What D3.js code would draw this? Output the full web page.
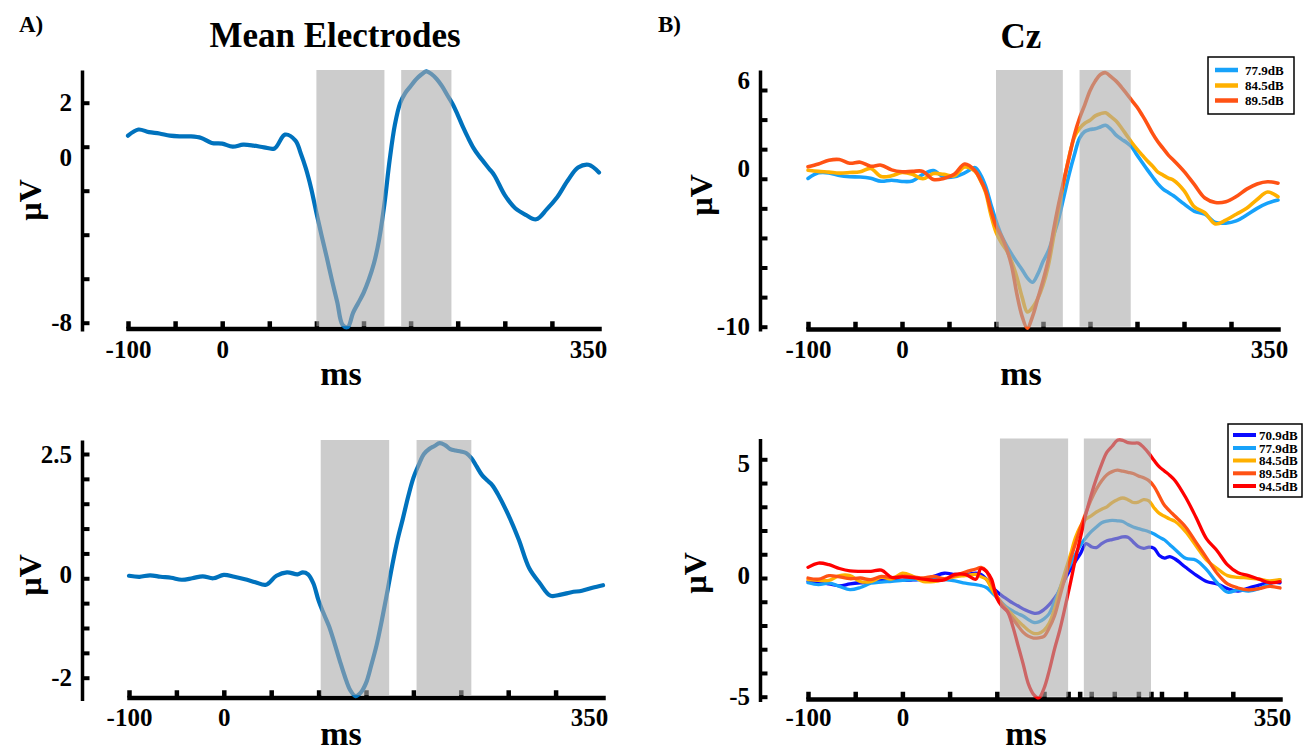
<!DOCTYPE html>
<html>
<head>
<meta charset="utf-8">
<script src="https://cdn.jsdelivr.net/npm/d3@7"></script>
<style>
  body { margin: 0; background: #fff; }
  svg { display: block; }
  text { font-family: "Liberation Serif", "Times New Roman", serif; font-weight: bold; fill: #000; }
</style>
</head>
<body>
<svg id="fig" width="1304" height="751"></svg>
<script>
// Sample times (ms) shared by every waveform
const tMs = [-100,-90,-80,-70,-60,-50,-40,-30,-20,-10,0,10,20,30,40,50,60,
  65,70,75,80,85,90,95,100,105,110,115,120,125,130,135,140,145,150,155,160,165,170,175,180,185,190,195,200,205,210,215,220,225,230,235,240,245,250,
  260,270,280,290,300,310,320,330,340,350];

// Mean over electrodes (µV), upper and lower experiment
const meanTop = [0.50,0.78,0.66,0.60,0.50,0.47,0.47,0.40,0.17,0.14,0.00,0.09,0.05,-0.03,-0.08,0.55,0.28,
  -0.30,-1.00,-1.90,-3.00,-4.05,-5.05,-6.10,-7.08,-8.10,-8.20,-7.55,-7.10,-6.65,-6.05,-5.30,-4.20,-2.60,-0.60,1.00,1.98,2.45,2.75,3.05,3.27,3.42,3.30,3.07,2.75,2.35,1.95,1.45,0.90,0.40,-0.05,-0.40,-0.70,-1.00,-1.30,
  -2.20,-2.80,-3.10,-3.30,-2.85,-2.30,-1.55,-0.95,-0.82,-1.17];
const meanBottom = [0.05,0.03,0.06,0.03,0.01,-0.03,0.00,0.04,0.00,0.07,0.03,-0.02,-0.08,-0.13,0.05,0.12,0.08,
  0.12,0.08,-0.10,-0.45,-0.72,-0.97,-1.30,-1.65,-1.98,-2.25,-2.37,-2.30,-2.11,-1.75,-1.35,-0.85,-0.30,0.27,0.78,1.20,1.64,2.02,2.28,2.50,2.60,2.66,2.72,2.68,2.60,2.57,2.55,2.52,2.42,2.25,2.08,1.97,1.87,1.70,
  1.28,0.78,0.20,-0.10,-0.35,-0.33,-0.28,-0.25,-0.19,-0.14];

// Cz waveforms, upper experiment
const czTop779 = [0.02,0.40,0.40,0.22,0.14,0.12,0.03,-0.17,-0.10,-0.18,-0.15,0.30,0.55,0.12,0.13,0.40,0.75,
  0.30,-0.50,-1.70,-2.85,-3.80,-4.50,-5.10,-5.65,-6.15,-6.70,-7.00,-6.45,-5.60,-4.90,-3.85,-2.70,-1.20,0.30,1.60,2.75,3.20,3.33,3.38,3.50,3.62,3.35,2.95,2.68,2.45,2.15,1.60,1.10,0.60,0.12,-0.35,-0.70,-0.93,-1.15,
  -1.70,-2.20,-2.40,-2.95,-3.00,-2.85,-2.45,-2.00,-1.65,-1.44];
const czTop845 = [0.58,0.50,0.45,0.38,0.42,0.48,0.70,0.15,0.20,0.42,0.30,0.00,0.35,0.30,0.20,0.80,0.50,
  -0.10,-0.90,-2.40,-3.60,-4.30,-4.83,-5.60,-6.65,-8.00,-9.00,-8.70,-8.10,-7.20,-5.90,-4.00,-2.00,-0.20,1.50,2.80,3.40,3.75,3.95,4.25,4.40,4.46,4.20,3.90,3.45,2.95,2.45,2.00,1.60,1.20,0.85,0.45,0.25,0.05,-0.10,
  -0.80,-1.90,-2.30,-3.05,-2.80,-2.40,-2.00,-1.40,-0.90,-1.22];
const czTop895 = [0.81,1.00,1.25,1.30,1.05,1.12,0.85,0.92,0.60,0.47,0.50,0.50,-0.05,0.02,0.30,1.00,0.55,
  -0.05,-0.80,-2.10,-3.20,-3.85,-4.70,-5.90,-7.80,-9.30,-10.10,-9.30,-8.10,-6.90,-5.50,-3.50,-1.70,-0.10,1.45,2.95,4.10,5.00,5.95,6.60,7.05,7.17,6.90,6.60,6.20,5.75,5.30,4.85,4.30,3.70,3.05,2.50,2.05,1.60,1.25,
  0.50,-0.40,-1.30,-1.60,-1.55,-1.20,-0.70,-0.35,-0.20,-0.30];

// Cz waveforms, lower experiment
const czBot709 = [-0.14,-0.18,-0.25,-0.33,-0.25,-0.20,-0.17,-0.08,-0.09,-0.10,-0.08,-0.05,0.07,0.20,0.15,0.14,0.20,
  0.15,-0.05,-0.35,-0.57,-0.75,-0.90,-1.05,-1.17,-1.30,-1.40,-1.48,-1.47,-1.33,-1.12,-0.85,-0.52,-0.05,0.35,0.70,1.05,1.45,1.32,1.28,1.45,1.57,1.62,1.67,1.73,1.72,1.52,1.32,1.25,1.30,1.25,0.95,0.84,0.90,0.80,
  0.45,0.12,-0.15,-0.25,-0.45,-0.55,-0.42,-0.30,-0.18,-0.20];
const czBot779 = [-0.20,-0.28,-0.22,-0.35,-0.49,-0.40,-0.22,-0.17,-0.14,-0.10,-0.07,-0.07,-0.07,-0.07,-0.12,-0.22,-0.28,
  -0.32,-0.40,-0.60,-0.82,-1.05,-1.25,-1.38,-1.50,-1.60,-1.75,-1.87,-1.85,-1.72,-1.50,-1.00,-0.45,0.10,0.55,1.00,1.40,1.70,1.95,2.15,2.33,2.40,2.43,2.41,2.38,2.25,2.15,2.08,2.02,1.95,1.85,1.72,1.60,1.40,1.20,
  0.83,0.75,0.35,-0.20,-0.60,-0.50,-0.55,-0.45,-0.25,-0.07];
const czBot845 = [-0.07,-0.10,-0.10,0.10,0.10,-0.15,-0.15,0.03,-0.04,0.20,0.07,-0.15,-0.15,-0.05,0.05,0.10,0.15,
  0.05,-0.05,-0.45,-0.80,-1.10,-1.33,-1.55,-1.80,-2.00,-2.20,-2.33,-2.33,-2.20,-1.90,-1.30,-0.50,0.25,0.95,1.70,2.20,2.48,2.62,2.78,2.90,3.00,3.18,3.30,3.37,3.30,3.18,3.20,3.30,3.25,2.95,2.72,2.60,2.48,2.38,
  1.95,1.35,0.75,0.40,0.10,0.03,0.00,-0.05,-0.12,-0.07];
const czBot895 = [0.00,-0.05,0.10,0.05,-0.03,0.00,-0.07,0.07,0.02,0.08,0.05,0.00,0.07,-0.03,0.10,0.25,0.38,
  0.45,0.30,-0.20,-0.75,-1.10,-1.40,-1.70,-2.00,-2.28,-2.45,-2.53,-2.52,-2.46,-2.10,-1.60,-0.80,0.00,0.75,1.45,2.15,2.75,3.30,3.75,4.10,4.35,4.48,4.54,4.50,4.45,4.40,4.30,4.22,4.10,3.85,3.45,3.05,2.82,2.60,
  2.15,1.50,0.85,0.20,-0.25,-0.42,-0.50,-0.45,-0.35,-0.42];
const czBot945 = [0.45,0.63,0.56,0.40,0.30,0.28,0.28,0.33,0.02,0.05,0.02,-0.05,-0.10,-0.08,0.15,0.15,-0.05,
  0.40,0.28,-0.05,-0.85,-1.20,-1.40,-2.00,-2.80,-3.60,-4.45,-4.90,-5.05,-4.65,-3.90,-3.00,-2.20,-1.25,-0.25,0.80,1.75,2.70,3.50,4.20,4.80,5.30,5.55,5.80,5.80,5.70,5.68,5.68,5.50,5.25,4.95,4.68,4.50,4.32,4.10,
  3.40,2.55,1.65,1.15,0.55,0.22,0.10,-0.05,-0.20,-0.15];

// Analysis windows (ms) shaded in each panel
const windowsMeanTop = [[80, 145], [161, 209]];
const windowsMeanBottom = [[82, 147], [173, 225]];
const windowsCzTop = [[80, 144], [160, 209]];
const windowsCzBottom = [[83, 148], [163, 227]];

// Legend entries
const levelsTop = ["77.9dB", "84.5dB", "89.5dB"];
const levelsBottom = ["70.9dB", "77.9dB", "84.5dB", "89.5dB", "94.5dB"];

// Time-axis ticks and their labels
const xTicks = d3.range(-100, 351, 45);
const xTickText = ["-100", "", "0", "", "", "", "", "", "", "", "350"];
const xExtraTicksCzBottom = [148, 159, 192, 227, 237];

// Voltage-axis ticks and labels
const yTicksMeanTop = [2, 0, -2, -4, -6, -8];
const yTextMeanTop = { "2": "2", "0": "0", "-8": "-8" };
const yTicksMeanBottom = [2.5, 2, 1.5, 1, 0.5, 0, -0.5, -1, -1.5, -2];
const yTextMeanBottom = { "2.5": "2.5", "0": "0", "-2": "-2" };
const yTicksCzTop = [6, 4, 2, 0, -2, -4, -6, -8, -10];
const yTextCzTop = { "6": "6", "0": "0", "-10": "-10" };
const yTicksCzBottom = [5, 4, 3, 2, 1, 0, -1, -2, -3, -4, -5];
const yTextCzBottom = { "5": "5", "0": "0", "-5": "-5" };

const colors = {
  "70.9dB": "#0a0aff",
  "77.9dB": "#17a2fa",
  "84.5dB": "#ffb000",
  "89.5dB": "#ff5214",
  "94.5dB": "#ff0000"
};

const svg = d3.select("#fig");
const FONT = "'Liberation Serif', 'Times New Roman', serif";

function styleAxisText(sel, size) {
  sel.attr("font-size", size).attr("font-family", FONT).attr("font-weight", "bold");
}

function drawPanel(cfg) {
  const x = d3.scaleLinear().domain([-100, 350]).range([cfg.x0, cfg.x1]);
  const yAnchor = d3.scaleLinear().domain(cfg.yAnchor).range(cfg.yAnchorPx);
  const y = d3.scaleLinear()
    .domain([yAnchor.invert(cfg.yBot), yAnchor.invert(cfg.yTop)])
    .range([cfg.yBot, cfg.yTop]);

  const g = svg.append("g");

  // time axis: line and upward ticks
  const tickVals = xTicks.slice(0, 10).concat(cfg.xExtra || []);
  const xAxis = d3.axisBottom(x)
    .tickValues(tickVals)
    .tickFormat(() => "")
    .tickSizeInner(-(2.25 + 5))
    .tickSizeOuter(0);
  const gx = g.append("g")
    .attr("transform", `translate(0,${cfg.xAxisY})`)
    .call(xAxis);
  gx.select(".domain").attr("stroke", "#000").attr("stroke-width", 4.5).attr("stroke-linecap", "square");
  gx.selectAll(".tick line").attr("stroke", "#000").attr("stroke-width", 4.5);

  // time-axis labels, from a second axis that carries only text
  const xLabelAxis = d3.axisBottom(x)
    .tickValues(xTicks.filter((d, i) => xTickText[i] !== ""))
    .tickFormat(d => xTickText[xTicks.indexOf(d)])
    .tickSize(0)
    .tickPadding(cfg.xPad);
  const gxl = g.append("g")
    .attr("transform", `translate(0,${cfg.xAxisY})`)
    .call(xLabelAxis);
  styleAxisText(gxl, 25);
  gxl.select(".domain").remove();
  gxl.selectAll(".tick text").attr("fill", "#000")
    .attr("dx", d => (d === 350 ? cfg.endLabelShift : 0));

  // voltage axis
  const yAxis = d3.axisLeft(y)
    .tickValues(cfg.yTicks)
    .tickFormat(d => cfg.yText[String(d)] || "")
    .tickSizeInner(-7.5)
    .tickSizeOuter(0)
    .tickPadding(10);
  const gy = g.append("g")
    .attr("transform", `translate(${cfg.yAxisX},0)`)
    .call(yAxis);
  styleAxisText(gy, 25);
  gy.select(".domain").attr("stroke", "#000").attr("stroke-width", 3.5);
  gy.selectAll(".tick line").attr("stroke", "#000").attr("stroke-width", 4);
  gy.selectAll(".tick text").attr("fill", "#000")
    .attr("transform", d => `translate(0,${(cfg.yNudge && cfg.yNudge[String(d)]) || 0})`);

  // waveforms
  const line = d3.line()
    .x(d => x(d[0]))
    .y(d => y(d[1]))
    .curve(d3.curveCatmullRom.alpha(0.5));
  cfg.series.forEach(s => {
    g.append("path")
      .datum(tMs.map((t, i) => [t, s.values[i]]))
      .attr("fill", "none")
      .attr("stroke", s.color)
      .attr("stroke-width", cfg.lineWidth)
      .attr("stroke-linejoin", "round")
      .attr("stroke-linecap", "round")
      .attr("d", line);
  });

  // shaded analysis windows, laid over the traces
  g.selectAll("rect.win")
    .data(cfg.windows)
    .join("rect")
    .attr("class", "win")
    .attr("x", d => x(d[0]))
    .attr("width", d => x(d[1]) - x(d[0]))
    .attr("y", cfg.yTop)
    .attr("height", cfg.xAxisY - 2.25 - cfg.yTop)
    .attr("fill", "rgb(170,170,170)")
    .attr("fill-opacity", 0.6);

  // axis titles
  g.append("text")
    .attr("transform", `translate(${cfg.uvPos[0]},${cfg.uvPos[1]}) rotate(-90)`)
    .attr("text-anchor", "middle")
    .attr("font-size", 32)
    .text("µV");
  g.append("text")
    .attr("x", cfg.msPos[0]).attr("y", cfg.msPos[1])
    .attr("text-anchor", "middle")
    .attr("font-size", 34)
    .text("ms");
}

function drawLegend(box, entries, rowY, sampleX, textX, lineW) {
  const g = svg.append("g");
  g.append("rect")
    .attr("x", box[0]).attr("y", box[1]).attr("width", box[2]).attr("height", box[3])
    .attr("fill", "#fff").attr("stroke", "#000").attr("stroke-width", 1.5);
  entries.forEach((name, i) => {
    g.append("line")
      .attr("x1", sampleX[0]).attr("x2", sampleX[1])
      .attr("y1", rowY[i]).attr("y2", rowY[i])
      .attr("stroke", colors[name]).attr("stroke-width", lineW);
    g.append("text")
      .attr("x", textX).attr("y", rowY[i]).attr("dy", "0.35em")
      .attr("font-size", 13)
      .text(name);
  });
}

drawPanel({
  x0: 128, x1: 599, xAxisY: 328.5, xPad: 11.5, endLabelShift: -11,
  yAxisX: 82, yTop: 70, yBot: 331, yAnchor: [2, -8], yAnchorPx: [102.7, 322.7],
  yTicks: yTicksMeanTop, yText: yTextMeanTop, yNudge: { "0": 11 },
  windows: windowsMeanTop, lineWidth: 4.2,
  series: [{ values: meanTop, color: "#0072bd" }],
  uvPos: [41, 200], msPos: [341, 385]
});

drawPanel({
  x0: 129, x1: 603, xAxisY: 697.5, xPad: 10.5, endLabelShift: -14,
  yAxisX: 82, yTop: 440, yBot: 700.5, yAnchor: [2.5, -2], yAnchorPx: [454, 677.7],
  yTicks: yTicksMeanBottom, yText: yTextMeanBottom, yNudge: { "0": -3.5 },
  windows: windowsMeanBottom, lineWidth: 4.2,
  series: [{ values: meanBottom, color: "#0072bd" }],
  uvPos: [41, 575], msPos: [341, 745]
});

drawPanel({
  x0: 808, x1: 1278, xAxisY: 329, xPad: 11, endLabelShift: -9,
  yAxisX: 760, yTop: 70, yBot: 331, yAnchor: [6, -10], yAnchorPx: [90, 326.7],
  yTicks: yTicksCzTop, yText: yTextCzTop, yNudge: { "6": -10, "0": -10 },
  windows: windowsCzTop, lineWidth: 3.6,
  series: [
    { values: czTop779, color: colors["77.9dB"] },
    { values: czTop845, color: colors["84.5dB"] },
    { values: czTop895, color: colors["89.5dB"] }
  ],
  uvPos: [712, 195], msPos: [1021, 385]
});

drawPanel({
  x0: 808, x1: 1280, xAxisY: 699, xPad: 9, endLabelShift: -8,
  xExtra: xExtraTicksCzBottom,
  yAxisX: 760, yTop: 438.5, yBot: 701.5, yAnchor: [5, -5], yAnchorPx: [459.3, 696.7],
  yTicks: yTicksCzBottom, yText: yTextCzBottom, yNudge: { "5": 4, "0": -3 },
  windows: windowsCzBottom, lineWidth: 3.3,
  series: [
    { values: czBot709, color: colors["70.9dB"] },
    { values: czBot779, color: colors["77.9dB"] },
    { values: czBot845, color: colors["84.5dB"] },
    { values: czBot895, color: colors["89.5dB"] },
    { values: czBot945, color: colors["94.5dB"] }
  ],
  uvPos: [706, 573], msPos: [1026, 745]
});

drawLegend([1208, 57, 86, 57], levelsTop, [70, 85.5, 100.5], [1215, 1238], 1245, 4.5);
drawLegend([1228, 424, 74, 73], levelsBottom, [435, 448, 460.5, 473.3, 486], [1233, 1256], 1259, 4);

// panel letters and titles
svg.append("text").attr("x", 19).attr("y", 32).attr("font-size", 23).text("A)");
svg.append("text").attr("x", 658).attr("y", 32).attr("font-size", 23).text("B)");
svg.append("text").attr("x", 335).attr("y", 47).attr("text-anchor", "middle").attr("font-size", 35).text("Mean Electrodes");
svg.append("text").attr("x", 1021).attr("y", 48).attr("text-anchor", "middle").attr("font-size", 35).text("Cz");
</script>
</body>
</html>
